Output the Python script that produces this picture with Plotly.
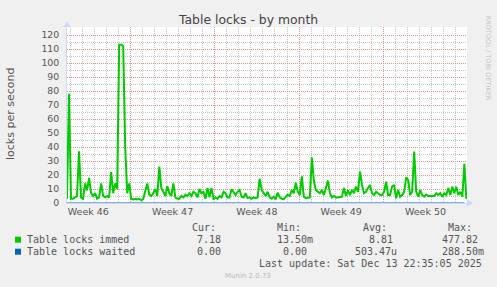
import plotly.graph_objects as go
import pandas as pd

# ---------------- data ----------------
start_time = "2025-11-11 17:30"
range_end = "2025-12-14 22:47"

immed = [
    3, 78, 3, 3, 4, 5, 37, 4, 3, 14,
    9, 18, 7, 5, 7, 3, 4, 14, 5, 4,
    5, 4, 22, 7, 14, 10, 113, 113, 112, 40,
    7, 14, 3, 2.5, 3, 2.5, 3, 2, 3, 8,
    14, 6, 5, 7, 10, 5, 26, 10.7, 8, 5,
    12, 7, 5, 14, 4, 3, 3, 5, 4, 6,
    5, 7, 5, 8, 7, 4, 10, 7, 8, 3,
    10.7, 4, 10.7, 3, 4, 3, 5, 4, 8, 7,
    4, 4, 9.8, 8, 5.7, 8, 9.3, 4.5, 4, 7,
    3.5, 4, 3, 4, 3.5, 4, 17.4, 9.3, 7, 5,
    8, 4, 3, 4.5, 3, 7.4, 4, 3, 2.7, 4,
    6, 5, 9.3, 7, 14.5, 8, 5.7, 19, 4.5, 3.5,
    3.5, 4, 32.6, 15.9, 9.3, 8, 7, 9.3, 5.7, 10.7,
    16, 7, 4, 5, 4, 4, 4, 4.5, 10.7, 5,
    9, 5.7, 9.3, 7, 11.7, 8, 22.4, 12.9, 7, 8,
    10.7, 12.9, 7, 5.7, 8, 7, 5.7, 5.7, 8, 15.2,
    5.7, 5.7, 11.7, 12.9, 3.3, 9.3, 4.5, 5.7, 8, 18.3,
    16.4, 5.7, 8, 36.7, 8, 4.5, 9.3, 5.7, 4.5, 6,
    5, 5, 5, 5, 7, 5.7, 7, 4.5, 7, 5.7,
    10.7, 5.7, 11.7, 7, 11.7, 5.7, 8, 4.5, 28, 3,
    6,
]
immed_times = pd.date_range(start_time, periods=len(immed), freq="4h")

waited = [
    0, 0, 0, 0, 0, 0, 0, 0, 0, 0,
    0, 0, 0, 0, 0, 0, 0, 0, 0, 0,
    0, 0, 0, 0, 0, 0, 0, 0, 0, 0,
    0, 0, 0, 0,
]
waited_times = pd.date_range(start_time, periods=len(waited), freq="1D")

series_names = ["Table locks immed", "Table locks waited"]
series_colors = ["#00CC00", "#0066B3"]
stat_headers = ["Cur:", "Min:", "Avg:", "Max:"]
stats_immed = ["7.18", "13.50m", "8.81", "477.82"]
stats_waited = ["0.00", "0.00", "503.47u", "288.50m"]

title = "Table locks - by month"
y_title = "locks per second"
last_update = "Last update: Sat Dec 13 22:35:05 2025"
footer = "Munin 2.0.73"
side_text = "RRDTOOL / TOBI OETIKER"

# ---------------- geometry helpers ----------------
W, H = 497, 287
L, R, T, B = 67, 467, 27, 203


def px(x):
    return (x - L) / (R - L)


def py(y):
    return (B - y) / (B - T)


FONT = "DejaVu Sans"
MONO = "DejaVu Sans Mono"
TXT = "#555555"
MAJ = "#E29090"
MIN = "#C6C6C6"
AXIS = "#CFD6F8"

# minor grid positions (days that are not week boundaries, half-decades)
day_grid = [d for d in pd.date_range("2025-11-11", "2025-12-15", freq="D") if d.weekday() != 0]
y_minor = [5 + 10 * k for k in range(13)]

fig = go.Figure()
fig.add_trace(go.Scatter(x=waited_times, y=waited, mode="lines",
                         line=dict(color=series_colors[1], width=1),
                         name=series_names[1], showlegend=False))
fig.add_trace(go.Scatter(x=immed_times, y=immed, mode="lines",
                         line=dict(color=series_colors[0], width=2),
                         name=series_names[0], showlegend=False))

annotations = []


def text(x, y, s, size, color=TXT, family=FONT, xanchor="left", angle=0):
    annotations.append(dict(
        x=px(x), y=py(y), xref="paper", yref="paper", text=s, showarrow=False,
        xanchor=xanchor, yanchor="middle", textangle=angle, borderpad=0,
        font=dict(family=family, size=size, color=color)))


text(248, 19.5, title, 12.4, color="#444444", xanchor="center")
text(11, 114, y_title, 11, xanchor="center", angle=-90)
text(487.5, 58, side_text, 6.6, color="#C4C4C4", xanchor="center", angle=90)

# legend
header_x = [190.7, 276, 362, 447]
immed_x = [195.7, 276, 367.7, 441]
waited_x = [195.7, 281.7, 354.3, 441]
for hx, s in zip(header_x, stat_headers):
    text(hx, 227.7, s, 10, family=MONO)
text(26, 239.7, series_names[0], 10, family=MONO)
text(26, 251.7, series_names[1], 10, family=MONO)
for vx, s in zip(immed_x, stats_immed):
    text(vx, 239.7, s, 10, family=MONO)
for vx, s in zip(waited_x, stats_waited):
    text(vx, 251.7, s, 10, family=MONO)
text(483, 263.5, last_update, 10, family=MONO, xanchor="right")
text(248, 276.3, footer, 7, color="#BBBBBB", xanchor="center")

shapes = []
for c, yc in zip(series_colors, [239.7, 251.7]):
    shapes.append(dict(type="rect", xref="paper", yref="paper",
                       x0=px(15), x1=px(21), y0=py(yc - 3), y1=py(yc + 3),
                       fillcolor=c, line=dict(width=0)))
# axis arrows
shapes.append(dict(type="path", xref="paper", yref="paper",
                   path=f"M {px(63.5)} {py(27)} L {px(67)} {py(21)} L {px(70.5)} {py(27)} Z",
                   fillcolor=AXIS, line=dict(width=0)))
shapes.append(dict(type="path", xref="paper", yref="paper",
                   path=f"M {px(467)} {py(199.5)} L {px(473)} {py(203)} L {px(467)} {py(206.5)} Z",
                   fillcolor=AXIS, line=dict(width=0)))

fig.update_layout(
    width=W, height=H,
    margin=dict(l=L, r=W - R, t=T, b=H - B, pad=0),
    paper_bgcolor="#F0F0F0", plot_bgcolor="#FFFFFF",
    showlegend=False,
    annotations=annotations, shapes=shapes,
    xaxis=dict(
        type="date", range=[start_time, range_end],
        tickmode="linear", tick0="2025-11-10", dtick=7 * 86400000,
        tickformat="Week %V", ticklabelmode="period",
        showgrid=True, gridcolor=MAJ, griddash="1px,1px", gridwidth=1,
        minor=dict(tickmode="array", tickvals=day_grid, showgrid=True,
                   gridcolor=MIN, griddash="1px,1px", gridwidth=1),
        showline=True, linecolor=AXIS, linewidth=1, zeroline=False,
        ticks="", tickfont=dict(family=FONT, size=9.5, color=TXT),
        fixedrange=True,
    ),
    yaxis=dict(
        range=[0, 125.714], tickmode="linear", tick0=0, dtick=10,
        showgrid=True, gridcolor=MAJ, griddash="1px,1px", gridwidth=1,
        minor=dict(tickmode="array", tickvals=y_minor, showgrid=True,
                   gridcolor=MIN, griddash="1px,1px", gridwidth=1),
        showline=True, linecolor=AXIS, linewidth=1, zeroline=False,
        ticks="", ticklabelstandoff=5,
        tickfont=dict(family=FONT, size=9.3, color=TXT),
        fixedrange=True,
    ),
)

fig.write_html("out.html")
